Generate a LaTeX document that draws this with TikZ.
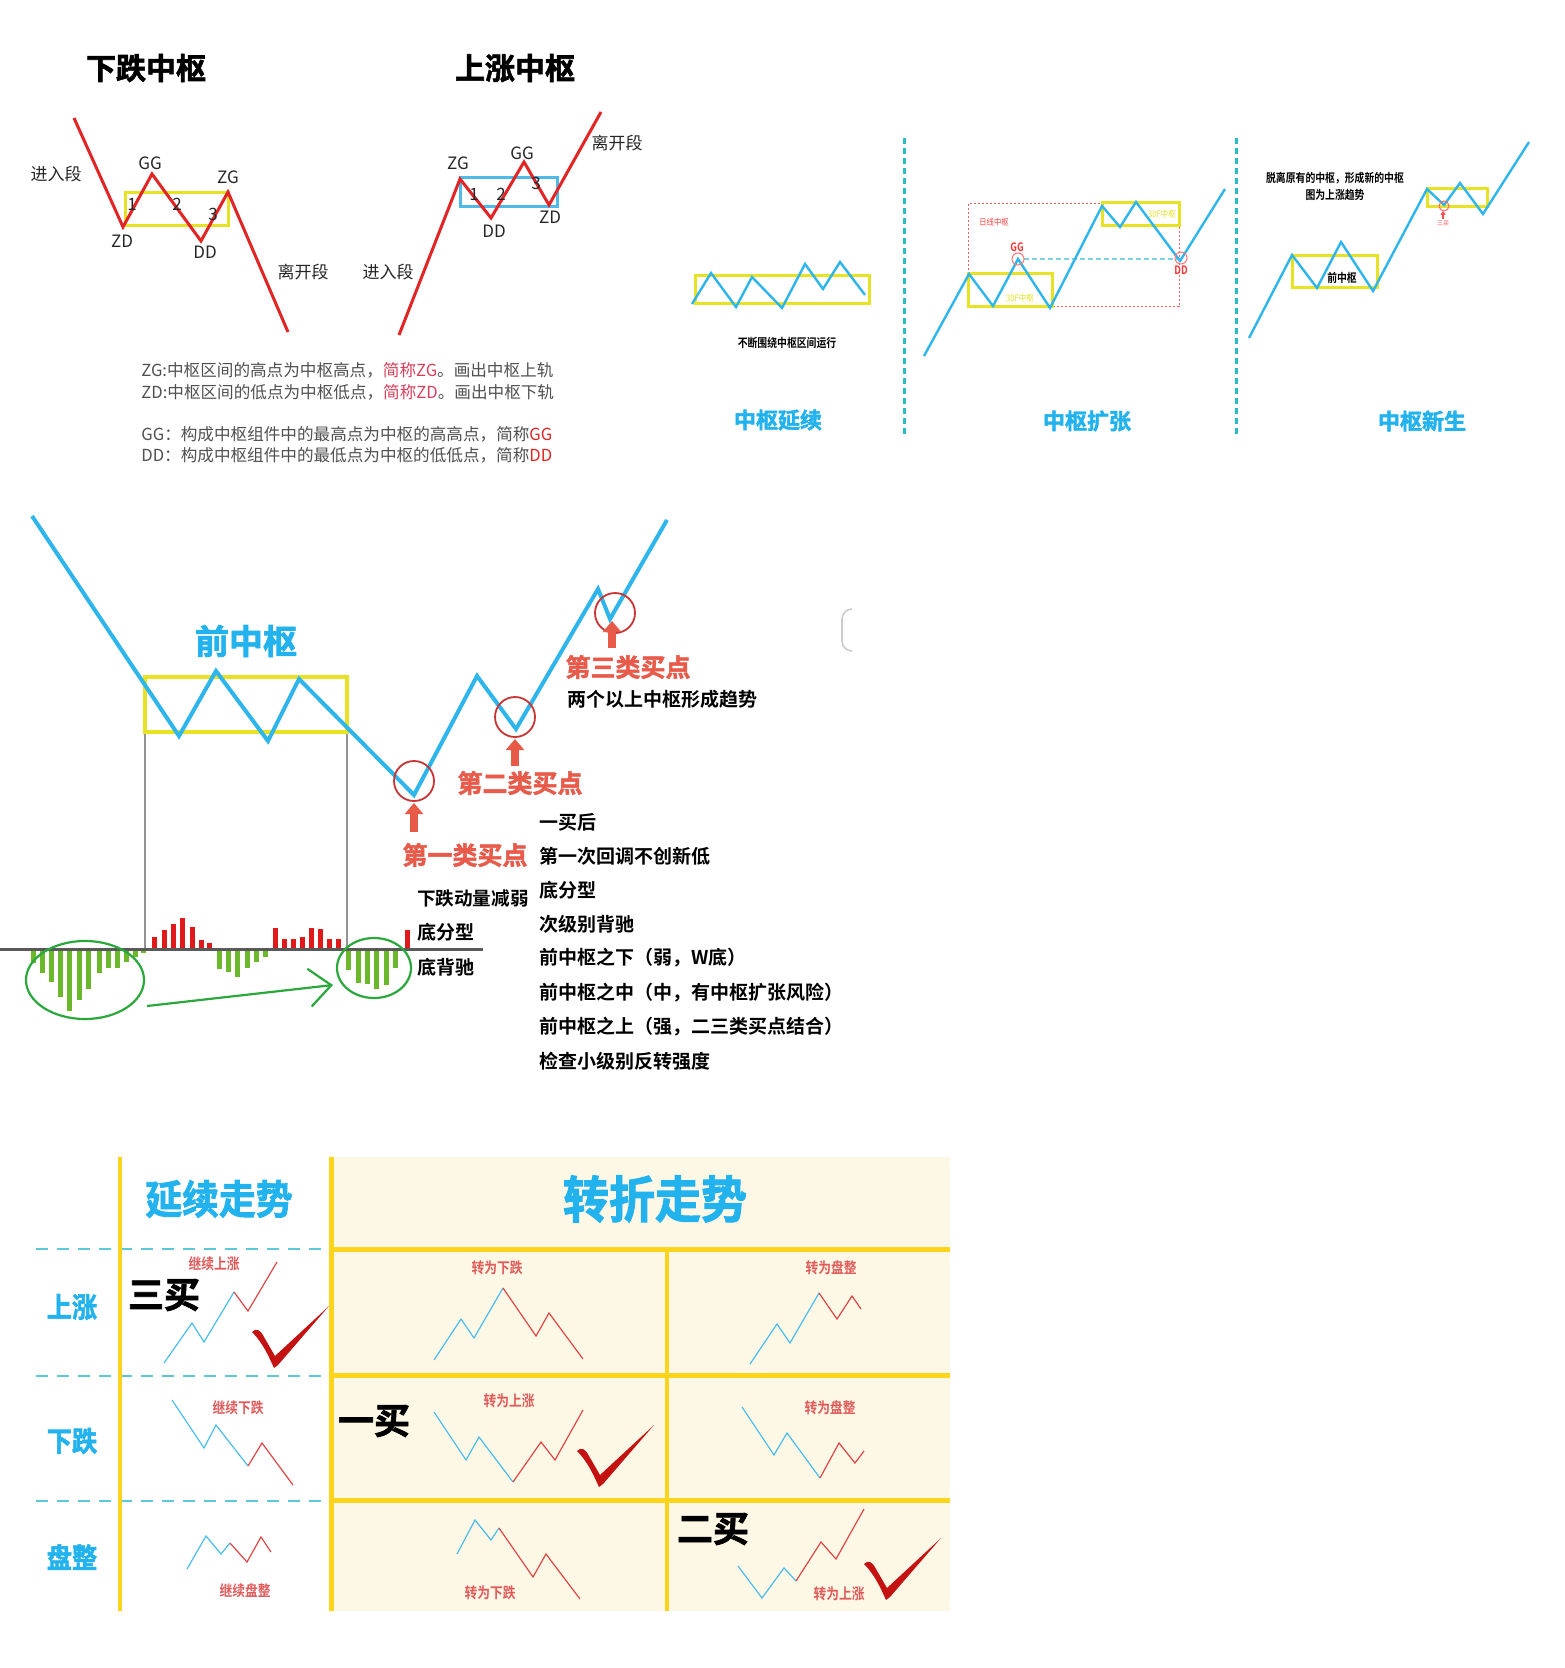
\documentclass[tikz,border=0pt]{standalone}
\usepackage{fontspec}
\setmainfont{Noto Sans CJK SC}[BoldFont={Noto Sans CJK SC Bold}]
\newfontfamily\heavyf{Noto Sans CJK SC Bold}[FakeBold=2]
\usetikzlibrary{arrows.meta,calc}
\newcommand\fsz[1]{\fontsize{#1}{#1}\selectfont}
\definecolor{redl}{HTML}{E32424}
\definecolor{boxy}{HTML}{E8E224}
\definecolor{boxb}{HTML}{4DBAEA}
\definecolor{chblue}{HTML}{2EB6EC}
\definecolor{labcyan}{HTML}{22B2EE}
\definecolor{labred}{HTML}{E85A4A}
\definecolor{arrred}{HTML}{E85A48}
\definecolor{macdred}{HTML}{E01A1A}
\definecolor{macdgreen}{HTML}{6BB82A}
\definecolor{ellgreen}{HTML}{2AA83C}
\definecolor{tyellow}{HTML}{FCD41C}
\definecolor{cream}{HTML}{FDF8E6}
\definecolor{dashc}{HTML}{2ABCC4}
\definecolor{tdash}{HTML}{5CC8DA}
\definecolor{minired}{HTML}{E04646}
\definecolor{miniblue}{HTML}{4ABDEB}
\definecolor{checkred}{HTML}{C41212}
\definecolor{txtgray}{HTML}{505050}
\definecolor{pinkred}{HTML}{D8405A}
\definecolor{cellred}{HTML}{E05A5A}
\tikzset{
  redpath/.style={draw=redl, line width=1.5pt, line join=miter},
  ybox/.style={draw=boxy, line width=1.5pt},
  bluep/.style={draw=chblue, line width=1.2pt},
  lbl/.style={font=\fsz{8.5pt}, text=black!85, inner sep=0pt},
  desc/.style={font=\fsz{8.3pt}, text=txtgray, anchor=west, inner sep=0pt},
  titlef/.style={font=\heavyf\fsz{15pt}, text=black, inner sep=0pt},
  panlabel/.style={font=\heavyf\fsz{11pt}, text=labcyan, inner sep=0pt},
  tinyblk/.style={font=\bfseries\fsz{6pt}, text=black, inner sep=0pt, xscale=0.82},
  buyred/.style={font=\heavyf\fsz{12.5pt}, text=labred, inner sep=0pt},
  listf/.style={font=\bfseries\fsz{9.5pt}, text=black, inner sep=0pt, anchor=west},
  bigbuy/.style={font=\heavyf\fsz{18pt}, text=black, inner sep=0pt},
  celllbl/.style={font=\bfseries\fsz{7.5pt}, text=cellred, inner sep=0pt, xscale=0.85},
  rowlbl/.style={font=\heavyf\fsz{14pt}, text=labcyan, inner sep=0pt, xscale=0.9},
  mblue/.style={draw=miniblue, line width=0.6pt},
  mred/.style={draw=minired, line width=0.6pt},
  uparrow/.style={draw=arrred, line width=3.8pt, -{Triangle[width=9pt,length=5.5pt]}},
  buycirc/.style={draw=red!75!black!80, line width=0.9pt},
  chk/.pic={\fill[checkred] (-21,-33) .. controls (-17,-37) and (-13,-36) .. (-9,-28) -- (2,-9) -- (56,-59) -- (5,0) -- (1,3) .. controls (-4,-8) and (-10,-22) .. (-21,-33) -- cycle;}
}
\begin{document}
\begin{tikzpicture}[x=0.5pt,y=-0.5pt]
\useasboundingbox (0,0) rectangle (1564,1668);
\fill[white] (0,0) rectangle (1564,1668);

%================ TOP LEFT: 下跌中枢 / 上涨中枢
\node[titlef] (t1) at (146,68) {下跌中枢};
\node[titlef] (t2) at (515,68) {上涨中枢};

\draw[ybox] (125,193) rectangle (228,226);
\draw[redpath] (74,118) -- (123,227) -- (152,174) -- (201,241) -- (228,192) -- (288,332);
\node[lbl] (a1) at (56,174) {进入段};
\node[lbl] (a2) at (150,163) {GG};
\node[lbl] (a3) at (228,177) {ZG};
\node[lbl] (a4) at (122,241) {ZD};
\node[lbl] (a5) at (205,252) {DD};
\node[lbl] (a6) at (303,272) {离开段};
\node[lbl] (a7) at (132,204) {1};
\node[lbl] (a8) at (177,204) {2};
\node[lbl] (a9) at (213,214) {3};

\draw[draw=boxb, line width=1.5pt] (460,178) rectangle (557,207);
\draw[redpath] (399,335) -- (460,179) -- (491,218) -- (524,162) -- (549,205) -- (601,112);
\node[lbl] (b1) at (458,163) {ZG};
\node[lbl] (b2) at (522,153) {GG};
\node[lbl] (b3) at (536,183) {3};
\node[lbl] (b4) at (474,194) {1};
\node[lbl] (b5) at (501,194) {2};
\node[lbl] (b6) at (494,231) {DD};
\node[lbl] (b7) at (550,217) {ZD};
\node[lbl] (b8) at (617,143) {离开段};
\node[lbl] (b9) at (388,272) {进入段};

\node[desc] (d1) at (141,370) {ZG:中枢区间的高点为中枢高点，{\color{pinkred}简称ZG}。画出中枢上轨};
\node[desc] (d2) at (141,392) {ZD:中枢区间的低点为中枢低点，{\color{pinkred}简称ZD}。画出中枢下轨};
\node[desc] (d3) at (141,434) {GG：构成中枢组件中的最高点为中枢的高高点，简称{\color{redl}GG}};
\node[desc] (d4) at (141,455) {DD：构成中枢组件中的最低点为中枢的低低点，简称{\color{redl}DD}};

%================ TOP RIGHT PANELS
\draw[dashc, line width=1.5pt, dash pattern=on 3pt off 2pt] (904,138) -- (904,436);
\draw[dashc, line width=1.5pt, dash pattern=on 3pt off 2pt] (1236,138) -- (1236,436);

% panel 1
\draw[ybox] (695,276) rectangle (869,304);
\draw[bluep] (692,304) -- (711,273) -- (736,307) -- (752,277) -- (782,308) -- (805,264) -- (823,289) -- (840,262) -- (865,295);
\node[tinyblk] (p1t) at (787,343) {不断围绕中枢区间运行};
\node[panlabel] (p1l) at (778,420) {中枢延续};

% panel 2
\draw[red!65, line width=0.5pt, dash pattern=on 1pt off 1pt] (968,204) rectangle (1179,307);
\draw[ybox] (968,274) rectangle (1052,307);
\draw[ybox] (1102,203) rectangle (1179,226);
\draw[tdash!80, line width=1.1pt, dash pattern=on 2.5pt off 1.5pt] (1024,259) -- (1178,259);
\draw[bluep] (924,356) -- (969,274) -- (993,306) -- (1018,259) -- (1050,308) -- (1102,206) -- (1120,227) -- (1136,202) -- (1180,261) -- (1225,189);
\draw[red!55, line width=0.5pt] (1018,259) circle[radius=6];
\draw[red!55, line width=0.5pt] (1181,258) circle[radius=6];
\node[font=\fsz{4.3pt}, text=red!75, inner sep=0pt, xscale=0.85] (p2a) at (994,222) {日线中枢};
\node[font=\bfseries\fsz{5.8pt}, text=red!80, inner sep=0pt, xscale=0.8] (p2b) at (1017,247) {GG};
\node[font=\bfseries\fsz{5.8pt}, text=red!80, inner sep=0pt, xscale=0.8] (p2c) at (1181,270) {DD};
\node[font=\fsz{4.5pt}, text=boxy, inner sep=0pt, xscale=0.85] (p2d) at (1020,298) {30F中枢};
\node[font=\fsz{4.5pt}, text=boxy, inner sep=0pt, xscale=0.85] (p2e) at (1162,214) {30F中枢};
\node[panlabel] (p2l) at (1087,421) {中枢扩张};

% panel 3
\draw[ybox] (1292,256) rectangle (1377,288);
\draw[ybox] (1427,189) rectangle (1487,207);
\draw[bluep] (1249,338) -- (1292,255) -- (1317,288) -- (1341,242) -- (1373,291) -- (1427,189) -- (1444,205) -- (1460,183) -- (1483,214) -- (1529,142);
\draw[red!60, line width=0.5pt] (1444,206) circle[radius=5];
\coordinate (s3a) at (1443,219);
\coordinate (s3b) at (1443,211);
\draw[red!70, line width=0.6pt, -{Triangle[width=2.5pt,length=2pt]}] (s3a) -- (s3b);
\node[font=\fsz{3pt}, text=red!70, inner sep=0pt] (p3s) at (1443,223) {三买};
\node[tinyblk] (p3a) at (1335,178) {脱离原有的中枢，形成新的中枢};
\node[tinyblk] (p3b) at (1335,195) {图为上涨趋势};
\node[tinyblk] (p3c) at (1342,278) {前中枢};
\node[panlabel] (p3l) at (1422,421) {中枢新生};

%================ MIDDLE SECTION
\draw[gray!85, line width=1pt] (145,733) -- (145,949);
\draw[gray!85, line width=1pt] (347,733) -- (347,949);
\draw[boxy, line width=2pt] (145,677) rectangle (347,732);
\draw[chblue, line width=2pt, line join=miter] (32,516) -- (179,736) -- (216,671) -- (268,741) -- (299,679) -- (414,795) -- (477,676) -- (516,729) -- (598,589) -- (610,619) -- (667,520);
\node[font=\heavyf\fsz{17pt}, text=labcyan, inner sep=0pt] (qz) at (246,641) {前中枢};

% buy circles and arrows
\draw[buycirc] (414,781) circle[radius=20];
\draw[buycirc] (515,717) circle[radius=20];
\draw[buycirc] (615,613) circle[radius=20];
\coordinate (ar1s) at (414,832); \coordinate (ar1e) at (414,803);
\coordinate (ar2s) at (515,766); \coordinate (ar2e) at (515,739);
\coordinate (ar3s) at (612,648); \coordinate (ar3e) at (612,621);
\draw[uparrow] (ar1s) -- (ar1e);
\draw[uparrow] (ar2s) -- (ar2e);
\draw[uparrow] (ar3s) -- (ar3e);

\node[buyred] (by3) at (628,667) {第三类买点};
\node[font=\bfseries\fsz{9.5pt}, inner sep=0pt] (by3t) at (662,699) {两个以上中枢形成趋势};
\node[buyred] (by2) at (520,783) {第二类买点};
\node[buyred] (by1) at (465,855) {第一类买点};

\node[listf] (L1) at (539,822) {一买后};
\node[listf] (L2) at (539,856) {第一次回调不创新低};
\node[listf] (L3) at (539,890) {底分型};
\node[listf] (L4) at (539,924) {次级别背驰};
\node[listf] (L5) at (539,958) {前中枢之下（弱，W底）};
\node[listf] (L6) at (539,993) {前中枢之中（中，有中枢扩张风险）};
\node[listf] (L7) at (539,1027) {前中枢之上（强，二三类买点结合）};
\node[listf] (L8) at (539,1061) {检查小级别反转强度};

\node[font=\bfseries\fsz{9.3pt}, inner sep=0pt, anchor=east] (M1) at (529,898) {下跌动量减弱};
\node[listf] (M2) at (417,932) {底分型};
\node[listf] (M3) at (417,967) {底背驰};

% MACD
\foreach \x/\t in {154/937,164/930,173/924,182/918,192/927,201/940,209/943,
                   275/928,284/939,293/939,302/937,311/928,320/929,329/939,338/939,407/930}
  \fill[macdred] (\x-2.5,\t) rectangle (\x+2.5,949);
\foreach \x/\b in {33/963,42/973,51/982,60/997,69/1011,79/1000,88/989,99/973,108/968,117/968,126/962,135/957,143/953,
                   219/969,228/972,237/977,247/968,256/962,265/957,
                   348/970,358/983,367/984,376/989,386/985,395/968}
  \fill[macdgreen] (\x-2.5,951) rectangle (\x+2.5,\b);
\draw[black!65, line width=1.5pt] (0,949) -- (483,949);
\draw[ellgreen, line width=1.1pt] (85,980) ellipse[x radius=59, y radius=39];
\draw[ellgreen, line width=1.1pt] (374,968) ellipse[x radius=37, y radius=30];
\coordinate (gs) at (147,1006);
\coordinate (ge) at (333,985);
\draw[ellgreen, line width=1.1pt, -{Straight Barb[length=11pt,width=19pt,line width=1.1pt]}] (gs) -- (ge);

% faint UI artifact
\draw[black!20, line width=0.8pt, rounded corners=5pt] (852,609) -- (842,609) -- (842,651) -- (852,651);

%================ TABLE
\fill[cream] (331,1157) rectangle (950,1611);
\draw[tdash, line width=1pt, dash pattern=on 6pt off 4.5pt] (36,1249) -- (328,1249);
\draw[tdash, line width=1pt, dash pattern=on 6pt off 4.5pt] (36,1376) -- (328,1376);
\draw[tdash, line width=1pt, dash pattern=on 6pt off 4.5pt] (36,1501) -- (328,1501);
\draw[tyellow, line width=2.5pt] (331,1249) -- (950,1249);
\draw[tyellow, line width=2.5pt] (331,1375) -- (950,1375);
\draw[tyellow, line width=2.5pt] (331,1500) -- (950,1500);
\draw[tyellow, line width=2pt] (120,1157) -- (120,1611);
\draw[tyellow, line width=2.5pt] (331,1157) -- (331,1611);
\draw[tyellow, line width=2.2pt] (667,1249) -- (667,1611);

\node[font=\heavyf\fsz{20pt}, text=labcyan, inner sep=0pt, xscale=0.92] (h1) at (219,1199) {延续走势};
\node[font=\heavyf\fsz{25pt}, text=labcyan, inner sep=0pt, xscale=0.92] (h2) at (655,1199) {转折走势};
\node[rowlbl] (r1) at (72,1307) {上涨};
\node[rowlbl] (r2) at (72,1441) {下跌};
\node[rowlbl] (r3) at (72,1557) {盘整};

% row 上涨
\node[celllbl] (c11) at (214,1264) {继续上涨};
\draw[mblue] (164,1363) -- (192,1323) -- (204,1342) -- (234,1292);
\draw[mred] (234,1292) -- (248,1311) -- (277,1262);
\node[bigbuy] (bb3) at (164,1295) {三买};
\pic at (273,1365) {chk};

\node[celllbl] (c12) at (497,1268) {转为下跌};
\draw[mblue] (434,1360) -- (461,1319) -- (474,1338) -- (503,1288);
\draw[mred] (503,1288) -- (536,1336) -- (549,1313) -- (583,1359);

\node[celllbl] (c13) at (831,1268) {转为盘整};
\draw[mblue] (750,1364) -- (777,1324) -- (790,1343) -- (819,1293);
\draw[mred] (819,1293) -- (837,1319) -- (852,1296) -- (861,1309);

% row 下跌
\node[celllbl] (c21) at (238,1408) {继续下跌};
\draw[mblue] (172,1400) -- (204,1448) -- (216,1425) -- (248,1466);
\draw[mred] (248,1466) -- (262,1443) -- (293,1485);

\node[celllbl] (c22) at (509,1401) {转为上涨};
\node[bigbuy] (bb1) at (374,1421) {一买};
\draw[mblue] (434,1412) -- (466,1460) -- (479,1437) -- (513,1482);
\draw[mred] (513,1482) -- (541,1442) -- (555,1460) -- (583,1410);
\pic at (598,1484) {chk};

\node[celllbl] (c23) at (830,1408) {转为盘整};
\draw[mblue] (742,1407) -- (774,1455) -- (787,1433) -- (820,1478);
\draw[mred] (820,1478) -- (839,1443) -- (855,1463) -- (864,1451);

% row 盘整
\node[celllbl] (c31) at (245,1591) {继续盘整};
\draw[mblue] (187,1569) -- (206,1536) -- (221,1554) -- (230,1543);
\draw[mred] (230,1543) -- (247,1562) -- (261,1537) -- (271,1552);

\node[celllbl] (c32) at (490,1593) {转为下跌};
\draw[mblue] (457,1554) -- (475,1520) -- (491,1540) -- (499,1528);
\draw[mred] (499,1528) -- (533,1577) -- (546,1554) -- (580,1599);

\node[celllbl] (c33) at (839,1594) {转为上涨};
\node[bigbuy] (bb2) at (713,1529) {二买};
\draw[mblue] (738,1566) -- (762,1598) -- (784,1568) -- (796,1581);
\draw[mred] (796,1581) -- (821,1542) -- (836,1559) -- (864,1509);
\pic at (885,1597) {chk};

\end{tikzpicture}
\end{document}
